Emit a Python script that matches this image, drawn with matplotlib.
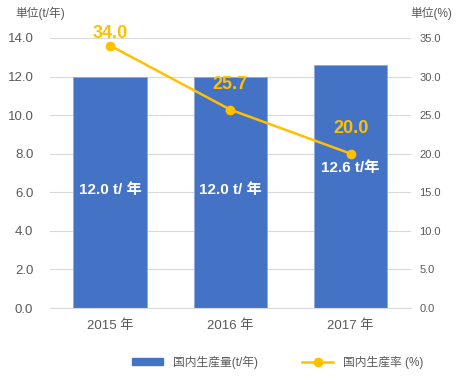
import matplotlib
matplotlib.use("Agg")
import matplotlib.pyplot as plt
from matplotlib.patches import Patch
from matplotlib.lines import Line2D

plt.rcParams['font.family'] = ['Liberation Sans', 'Noto Sans CJK JP']

years = ["2015 年", "2016 年", "2017 年"]
volume = [12.0, 12.0, 12.6]          # t/年
volume_labels = ["12.0 t/ 年", "12.0 t/ 年", "12.6 t/年"]
rate = [34.0, 25.7, 20.0]            # %
left_ticks = [0, 2, 4, 6, 8, 10, 12, 14]
right_ticks = [0, 5, 10, 15, 20, 25, 30, 35]

BLUE = "#4472C4"
ORANGE = "#FFC000"
GREY = "#595959"
GRID = "#D9D9D9"

fig = plt.figure(figsize=(4.59, 3.87), dpi=100)
ax = fig.add_axes([0.109, 0.204, 0.786, 0.698])
x = range(len(years))

ax.bar(x, volume, width=0.61, color=BLUE, edgecolor="#8FAADC", linewidth=0.6, zorder=2)
ax.set_ylim(0, 14)
ax.set_xlim(-0.5, 2.5)
ax.set_yticks(left_ticks)
ax.set_yticklabels([f"{v:.1f}" for v in left_ticks])
ax.set_xticks(list(x))
ax.set_xticklabels(years)
ax.yaxis.grid(True, color=GRID, linewidth=0.8, zorder=0)
ax.set_axisbelow(True)
for s in ["top", "left", "right"]:
    ax.spines[s].set_visible(False)
ax.spines["bottom"].set_color(GRID)
ax.tick_params(axis="both", length=0, colors=GREY, labelsize=9.5)
ax.tick_params(axis="x", pad=8)
ax.tick_params(axis="y", pad=12)

# bar labels (white, inside)
label_y = [6.1, 6.1, 7.25]
for i, (t, yv) in enumerate(zip(volume_labels, label_y)):
    ax.text(i, yv, t, color="white", fontsize=11, fontweight="bold",
            ha="center", va="center", zorder=5)

ax2 = ax.twinx()
ax2.set_ylim(0, 35)
ax2.set_yticks(right_ticks)
ax2.set_yticklabels([f"{v:.1f}" for v in right_ticks])
for s in ["top", "left", "right", "bottom"]:
    ax2.spines[s].set_visible(False)
ax2.tick_params(axis="y", length=0, colors=GREY, labelsize=8, pad=6)
ax2.plot(list(x), rate, color=ORANGE, linewidth=1.8, marker="o", markersize=6, zorder=4)

offsets = [9, 18, 18]
for i, (v, off) in enumerate(zip(rate, offsets)):
    ax2.annotate(f"{v:.1f}", (i, v), xytext=(0, off), textcoords="offset points",
                 ha="center", va="center", color=ORANGE, fontsize=13,
                 fontweight="bold", zorder=6)

fig.text(0.033, 0.966, "単位(t/年)", color=GREY, fontsize=8.5, ha="left", va="center")
fig.text(0.985, 0.966, "単位(%)", color=GREY, fontsize=8.5, ha="right", va="center")

handles = [Patch(facecolor=BLUE, edgecolor=BLUE),
           Line2D([0], [0], color=ORANGE, linewidth=1.8, marker="o", markersize=6)]
fig.legend(handles, ["国内生産量(t/年)", "国内生産率 (%)"], loc="center",
           bbox_to_anchor=(0.605, 0.065), ncol=2, frameon=False, fontsize=8.5,
           labelcolor=GREY, handlelength=2.6, handleheight=0.5, columnspacing=3.8)

fig.savefig("out.png", dpi=100)
